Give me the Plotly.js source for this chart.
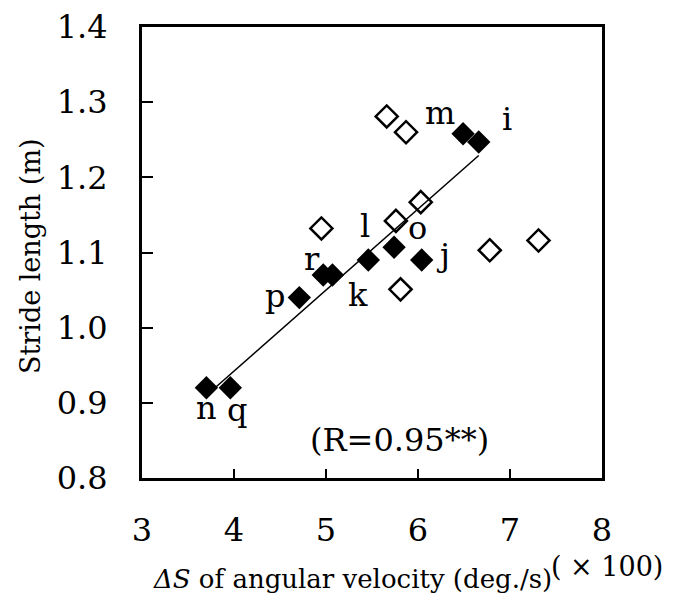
<!DOCTYPE html>
<html>
<head>
<meta charset="utf-8">
<script src="https://cdn.plot.ly/plotly-3.0.1.min.js"></script>
<style>html,body{margin:0;padding:0;background:#fff;}#chart{width:697px;height:598px;}</style>
</head>
<body>
<div id="chart"></div>
<script>
// Filled diamonds (labelled subjects)
const filledX = [6.49, 6.66, 5.74, 6.04, 5.46, 4.97, 5.07, 4.71, 3.70, 3.96];
const filledY = [1.258, 1.247, 1.107, 1.090, 1.090, 1.070, 1.070, 1.040, 0.920, 0.920];
// Open diamonds
const openX = [5.66, 5.87, 6.03, 5.76, 4.95, 6.78, 7.31, 5.81];
const openY = [1.281, 1.260, 1.167, 1.142, 1.132, 1.103, 1.116, 1.051];
// Regression line endpoints
const lineX = [3.72, 6.66];
const lineY = [0.912, 1.229];
// Point labels
const labelText = ['m', 'i', 'l', 'o', 'j', 'r', 'p', 'k', 'n', 'q'];
const labelX = [6.24, 6.97, 5.42, 5.99, 6.27, 4.85, 4.45, 5.35, 3.70, 4.03];
const labelY = [1.285, 1.277, 1.135, 1.132, 1.097, 1.091, 1.042, 1.043, 0.893, 0.890];
// Axis ticks
const xTicks = [3, 4, 5, 6, 7, 8];
const yTicks = [0.8, 0.9, 1.0, 1.1, 1.2, 1.3, 1.4];
const yTickText = ['0.8', '0.9', '1.0', '1.1', '1.2', '1.3', '1.4'];

const FONT = '"DejaVu Serif", "Liberation Serif", serif';

const traces = [
  {x: lineX, y: lineY, mode: 'lines', line: {color: '#000', width: 1.5}, hoverinfo: 'skip'},
  {x: openX, y: openY, mode: 'markers', marker: {symbol: 'diamond-open', size: 17, color: '#000', line: {color: '#000', width: 2.5}}},
  {x: filledX, y: filledY, mode: 'markers', marker: {symbol: 'diamond', size: 18, color: '#000'}}
];

const annotations = labelText.map((t, i) => ({
  x: labelX[i], y: labelY[i], xref: 'x', yref: 'y', text: t, showarrow: false,
  xanchor: 'center', yanchor: 'middle', font: {family: FONT, size: 32, color: '#000'}
}));
annotations.push({x: 5.80, y: 0.85, xref: 'x', yref: 'y', text: '(R=0.95**)', showarrow: false,
  xanchor: 'center', yanchor: 'middle', font: {family: FONT, size: 32, color: '#000'}});
annotations.push({x: (151 - 142) / 460, y: (478 - 579) / 451, xref: 'paper', yref: 'paper',
  text: '<i>ΔS</i> of angular velocity (deg./s)', showarrow: false, xanchor: 'left', yanchor: 'middle',
  font: {family: FONT, size: 26, color: '#000'}});
annotations.push({x: (550 - 142) / 460, y: (478 - 566) / 451, xref: 'paper', yref: 'paper',
  text: '( × 100)', showarrow: false, xanchor: 'left', yanchor: 'middle', borderpad: 0,
  font: {family: FONT, size: 27, color: '#000'}});
annotations.push({x: (30 - 142) / 460, y: (478 - 256) / 451, xref: 'paper', yref: 'paper',
  text: 'Stride length (m)', showarrow: false, textangle: -90, xanchor: 'center', yanchor: 'middle',
  font: {family: FONT, size: 27, color: '#000'}});

const layout = {
  width: 697, height: 598,
  margin: {l: 142, r: 95, t: 27, b: 120, pad: 0},
  paper_bgcolor: '#fff', plot_bgcolor: '#fff',
  showlegend: false,
  font: {family: FONT, color: '#000'},
  xaxis: {
    range: [3, 8], tickvals: xTicks, ticktext: xTicks.map(String),
    ticks: 'inside', ticklen: 9, tickwidth: 2, tickcolor: '#000',
    showline: true, linecolor: '#000', linewidth: 3, mirror: true,
    showgrid: false, zeroline: false, ticklabelstandoff: 22,
    tickfont: {family: FONT, size: 32, color: '#000'}
  },
  yaxis: {
    range: [0.8, 1.4], tickvals: yTicks, ticktext: yTickText,
    ticks: 'inside', ticklen: 11, tickwidth: 2, tickcolor: '#000',
    showline: true, linecolor: '#000', linewidth: 3, mirror: true,
    showgrid: false, zeroline: false, ticklabelstandoff: 25,
    tickfont: {family: FONT, size: 32, color: '#000'}
  },
  annotations: annotations
};

Plotly.newPlot('chart', traces, layout, {staticPlot: true, displayModeBar: false});
</script>
</body>
</html>
